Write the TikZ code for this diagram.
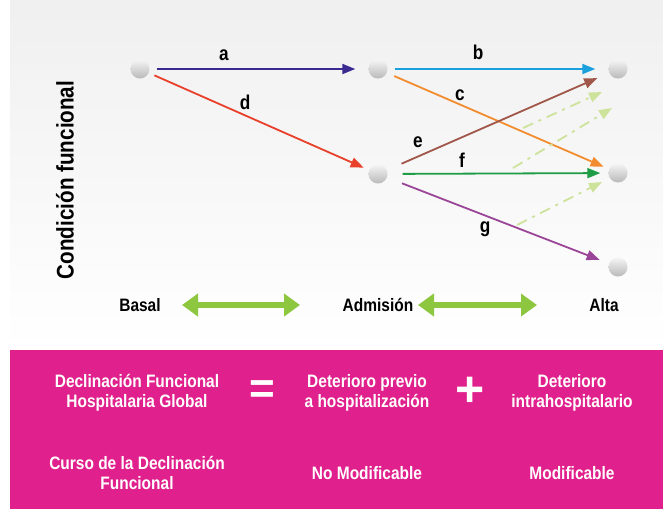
\documentclass[tikz,border=0pt]{standalone}
\usepackage{fontspec}
\setmainfont{Liberation Sans}
\newfontfamily\cond[FakeStretch=0.86]{Liberation Sans}
\usetikzlibrary{arrows.meta}
\definecolor{cA}{HTML}{3B2A8F}
\definecolor{cD}{HTML}{E8402A}
\definecolor{cB}{HTML}{1AA0DC}
\definecolor{cC}{HTML}{F28C2E}
\definecolor{cE}{HTML}{A0574A}
\definecolor{cF}{HTML}{1E9C46}
\definecolor{cG}{HTML}{9B4598}
\definecolor{cDash}{HTML}{CDE29A}
\definecolor{cBig}{HTML}{8DC63F}
\definecolor{cPink}{HTML}{E0208C}
\begin{document}
\begin{tikzpicture}[x=1pt,y=-1pt,
  ball/.style={circle,minimum size=19pt,inner sep=0pt,top color=gray!8,bottom color=gray!55},
  arr/.style={line width=1.8pt,-{Triangle[length=13pt,width=10pt]}},
  dasharr/.style={cDash,line width=1.8pt,dash pattern=on 11pt off 6pt on 3pt off 6pt,-{Triangle[length=13pt,width=10pt]}},
  lbl/.style={font=\cond\bfseries\fontsize{20}{22}\selectfont},
  axis/.style={font=\cond\bfseries\fontsize{18}{20}\selectfont},
  wt/.style={text=white,font=\cond\bfseries\fontsize{18}{20}\selectfont,align=center},
  big/.style={cBig,line width=6pt,{Triangle[length=16pt,width=22pt]}-{Triangle[length=16pt,width=22pt]}}]
\useasboundingbox (0,0) rectangle (663,509);
\fill[white] (0,0) rectangle (663,509);
\shade[top color=gray!12,bottom color=white] (10,0) rectangle (663,350);
\fill[cPink] (10,350) rectangle (663,509);

\node[ball] (B) at (140,69) {};
\node[ball] (A1) at (378,69) {};
\node[ball] (A2) at (378,174) {};
\node[ball] (C1) at (618,69) {};
\node[ball] (C2) at (618,173) {};
\node[ball] (C3) at (618,267) {};

\draw[arr,cA,shorten <=7pt,shorten >=13pt] (B) -- (A1);
\draw[arr,cD,shorten <=6pt,shorten >=6pt] (B) -- (A2);
\draw[arr,cB,shorten <=7pt,shorten >=13pt] (A1) -- (C1);
\draw[arr,cC,shorten <=8pt,shorten >=6pt] (A1) -- (C2);
\draw[arr,cE,shorten <=16pt,shorten >=13pt] (A2) -- (C1);
\draw[arr,cF,shorten <=15pt,shorten >=8pt] (A2) -- (C2);
\draw[arr,cG,shorten <=16pt,shorten >=10pt] (A2) -- (C3);

\coordinate (d1s) at (523,128); \coordinate (d1e) at (602,92);
\coordinate (d2s) at (513,168); \coordinate (d2e) at (612,108);
\coordinate (d3s) at (517,225); \coordinate (d3e) at (602,182);
\draw[dasharr] (d1s) -- (d1e);
\draw[dasharr] (d2s) -- (d2e);
\draw[dasharr] (d3s) -- (d3e);

\node[lbl] (la) at (224,55) {a};
\node[lbl] (ld) at (245,102) {d};
\node[lbl] (lb) at (478,52) {b};
\node[lbl] (lc) at (460,95) {c};
\node[lbl] (le) at (418,142) {e};
\node[lbl] (lf) at (462,160) {f};
\node[lbl] (lg) at (485,229) {g};

\node[rotate=90,font=\cond\bfseries\fontsize{24}{26}\selectfont] (ylab) at (65,180) {Condición funcional};

\node[axis] (basal) at (140,305) {Basal};
\node[axis] (adm) at (378,305) {Admisión};
\node[axis] (alta) at (604,305) {Alta};
\coordinate (g1s) at (182,305); \coordinate (g1e) at (300,305);
\coordinate (g2s) at (418,305); \coordinate (g2e) at (537,305);
\draw[big] (g1s) -- (g1e);
\draw[big] (g2s) -- (g2e);

\node[wt] (t1) at (137,393) {Declinación Funcional\\Hospitalaria Global};
\node[text=white,font=\bfseries\fontsize{44}{44}\selectfont] (eq) at (262,392) {=};
\node[wt] (t2) at (367,393) {Deterioro previo\\a hospitalización};
\node[text=white,font=\bfseries\fontsize{50}{50}\selectfont] (plus) at (470,392) {+};
\node[wt] (t3) at (572,393) {Deterioro\\intrahospitalario};
\node[wt] (t4) at (137,473) {Curso de la Declinación\\Funcional};
\node[wt] (t5) at (367,473) {No Modificable};
\node[wt] (t6) at (572,473) {Modificable};
\end{tikzpicture}
\end{document}
